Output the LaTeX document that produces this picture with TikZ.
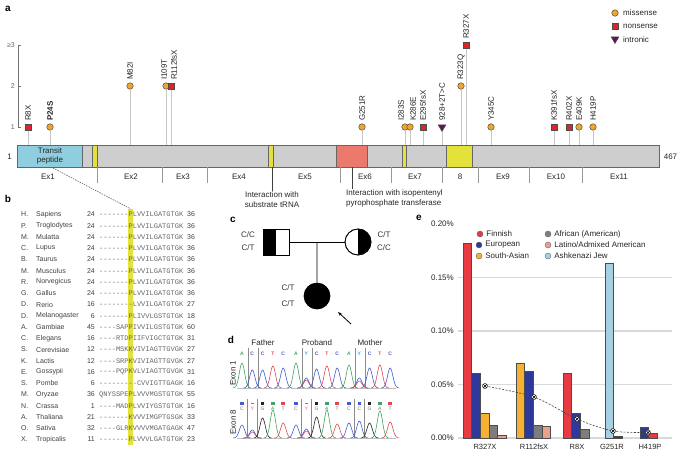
\documentclass[tikz,border=0pt]{standalone}
\usepackage{fontspec}
\setmainfont{Liberation Sans}
\setmonofont{Liberation Mono}
\usetikzlibrary{positioning, arrows.meta, calc, shapes.geometric}

\definecolor{MissenseColor}{RGB}{242,165,45}
\definecolor{NonsenseColor}{RGB}{225,35,40}
\definecolor{IntronicColor}{RGB}{95,20,90}
\definecolor{DomainGray}{RGB}{206,206,206}
\definecolor{TransitColor}{RGB}{143,206,222}
\definecolor{IPTColor}{RGB}{236,122,108}
\definecolor{MotifColor}{RGB}{226,226,58}
\definecolor{FinnishColor}{RGB}{232,58,66}
\definecolor{EuropeanColor}{RGB}{45,58,155}
\definecolor{SAsianColor}{RGB}{246,176,52}
\definecolor{AfricanColor}{RGB}{125,125,125}
\definecolor{LatinoColor}{RGB}{234,160,140}
\definecolor{AshkenaziColor}{RGB}{165,210,225}
\definecolor{TraceA}{RGB}{60,165,95}
\definecolor{TraceC}{RGB}{70,90,200}
\definecolor{TraceT}{RGB}{228,70,80}
\definecolor{TraceG}{RGB}{35,35,35}
\definecolor{TraceY}{RGB}{60,170,220}
\definecolor{TraceYpink}{RGB}{230,80,140}

\tikzset{
  panel label/.style={font=\bfseries\fontsize{10}{12}\selectfont, inner sep=0},
  lbl/.style={inner sep=0, text=black!85},
  tick label/.style={inner sep=0, text=black!60, font=\fontsize{7}{8}\selectfont},
  mut label/.style={rotate=90, anchor=west, inner sep=0, text=black!85},
  missense/.style={circle, draw=black!70, fill=MissenseColor, minimum size=6.5pt, inner sep=0, line width=0.5pt},
  nonsense/.style={rectangle, draw=black!70, fill=NonsenseColor, minimum size=6.5pt, inner sep=0, line width=0.5pt},
  intronic/.style={regular polygon, regular polygon sides=3, shape border rotate=180, draw=black!70, fill=IntronicColor, minimum size=9pt, inner sep=0, line width=0.5pt},
  stem/.style={draw=black!22, line width=1pt},
  axis/.style={draw=black!55, line width=0.6pt},
  region/.style={draw=black!60, line width=0.6pt},
  exon line/.style={draw=black!40, line width=0.6pt},
  interact/.style={draw=black!75, line width=0.6pt},
  species/.style={inner sep=0, text=black!75, font=\fontsize{7}{8}\selectfont},
  seq/.style={inner sep=0, text=black!60, font=\ttfamily\fontsize{7}{8}\selectfont, anchor=west},
  geno/.style={inner sep=0, text=black!80},
  member/.style={draw=black, line width=0.7pt, minimum size=26pt, inner sep=0},
  trace/.style={line width=0.6pt},
  snp line/.style={draw=black!45, line width=0.6pt},
  base/.style={inner sep=0, font=\bfseries\fontsize{5}{6}\selectfont},
  base8/.style={inner sep=0, font=\fontsize{5}{6}\selectfont, text=black!55},
  grid line/.style={draw=black!15, line width=1.2pt},
  bar/.style={draw=black!70, line width=0.5pt},
  pop dot/.style={circle, draw=black!60, minimum size=6pt, inner sep=0, line width=0.4pt},
  overall/.style={circle, draw=black!85, fill=white, minimum size=5pt, inner sep=0, line width=0.5pt,
    path picture={\draw[black, line width=0.7pt] (path picture bounding box.north west) -- (path picture bounding box.south east)
      (path picture bounding box.north east) -- (path picture bounding box.south west);}}
}

% one peak of a trace: x, baseline, height, colour
\newcommand{\tracepeak}[4]{%
  \draw[#4, trace] plot[domain=-9:9, samples=31, smooth] ({#1+\x}, {#2-#3*exp(-((\x)^2)/14)});}
% a chromatogram box: left, baseline, peaks pos/height/colour
\newcommand{\chromo}[3]{%
  \draw[black!25, line width=0.5pt] (#1,#2) -- ({#1+52},#2);
  \foreach \pp/\hh/\cc in {#3} {\tracepeak{#1+5+10.3*\pp}{#2}{\hh}{\cc}}}

\begin{document}
\begin{tikzpicture}[x=1pt, y=-1pt, font=\fontsize{8}{10}\selectfont]
\useasboundingbox (0,0) rectangle (685,453);

% ---------- a: variants on the protein
\node[panel label] (la) at (8,9) {a};

% Legend
\node[missense] (legmis) at (615,13) {};
\node[lbl, anchor=west] at (623,13) {missense};
\node[nonsense] (legnon) at (615,26) {};
\node[lbl, anchor=west] at (623,26) {nonsense};
\node[intronic] (legint) at (615,39) {};
\node[lbl, anchor=west] at (623,40) {intronic};

% Count axis
\draw[axis] (21,45) -- (18,45) -- (18,127) -- (21,127);
\draw[axis] (18,86) -- (21,86);
\node[tick label, anchor=east] (y3) at (15,45) {≥3};
\node[tick label, anchor=east] (y2) at (15,86) {2};
\node[tick label, anchor=east] (y1) at (15,127) {1};

% Lollipops
\foreach \mx/\lx/\lev/\kind/\txt [count=\i] in {
    28/28/1/nonsense/R8X, 50/50/1/missense/\textbf{P24S},
    130/130/2/missense/M82I, 166/164/2/missense/I109T, 171/174/2/nonsense/R112fsX,
    362/362/1/missense/G251R, 405/401/1/missense/I283S, 410/413/1/missense/K286E,
    423/423/1/nonsense/E295fsX, 442/442/1/intronic/928+2T>C,
    461/461/2/missense/R323Q, 466/466/3/nonsense/R327X, 491/491/1/missense/Y345C,
    554/554/1/nonsense/K391fsX, 569/569/1/nonsense/R402X, 579/579/1/missense/E409K,
    593/593/1/missense/H419P} {
  \coordinate (s\i) at (\mx,145);
  \node[\kind] (m\i) at (\mx,{127-41*(\lev-1)}) {};
  \draw[stem] (m\i.south) -- (s\i);
  \node[mut label] (t\i) at (\lx,{127-41*(\lev-1)-6}) {\txt};
}

% Protein
\node[region, fill=DomainGray, minimum width=642pt, minimum height=22pt, anchor=north west] (protein) at (17,145) {};
\draw[region, fill=TransitColor] (17,145) rectangle (82,167);
\draw[region, fill=MotifColor] (92,145) rectangle (97,167);
\draw[region, fill=MotifColor] (268,145) rectangle (273,167);
\draw[region, fill=IPTColor] (336,145) rectangle (367,167);
\draw[region, fill=MotifColor] (402,145) rectangle (406,167);
\draw[region, fill=MotifColor] (446,145) rectangle (472,167);
\node[lbl, align=center, font=\fontsize{8}{9.5}\selectfont] (transit) at (50,156) {Transit\\peptide};
\node[lbl, left=5pt of protein.west] (pstart) {1};
\node[lbl, right=4pt of protein.east] (pend) {467};

% Exons
\foreach \ex in {97,162,207,340,391,442,478,529,582}
  \draw[exon line] (\ex,167) -- (\ex,183);
\foreach \ex/\name [count=\j] in {48/Ex1, 131/Ex2, 183/Ex3, 239/Ex4, 305/Ex5, 365/Ex6,
    415/Ex7, 460/8, 503/Ex9, 556/Ex10, 619/Ex11}
  \node[lbl] (ex\j) at (\ex,177) {\name};

% Interactions
\coordinate (trna) at (272,167);
\node[lbl, align=center, anchor=north] (trnatxt) at (272,191) {Interaction with\\substrate tRNA};
\draw[interact] (trna) -- (trnatxt.north);
\coordinate (ipp) at (352,167);
\node[lbl, align=left, anchor=north west] (ipptxt) at (346,189) {Interaction with isopentenyl\\pyrophosphate transferase};
\draw[interact] (ipp) -- (ipp |- ipptxt.north);

% ---------- b: alignment
\node[panel label] (lb) at (8,199) {b};
\node[fill=MotifColor, minimum width=4.2pt, minimum height=236pt, inner sep=0] (hl) at (130.5,327) {};
\coordinate (zoomfrom) at (53,168);
\draw[black!70, line width=0.5pt, dash pattern=on 1.5pt off 1pt] (zoomfrom) -- (hl.north);
\foreach \g/\s/\a/\q/\b [count=\i from 0] in {
    H./Sapiens/24/-------PLVVILGATGTGK/36,
    P./Troglodytes/24/-------PLVVILGATGTGK/36,
    M./Mulatta/24/-------PLVVILGATGTGK/36,
    C./Lupus/24/-------PLVVILGATGTGK/36,
    B./Taurus/24/-------PLVVILGATGTGK/36,
    M./Musculus/24/-------PLVVILGATGTGK/36,
    R./Norvegicus/24/-------PLVVILGATGTGK/36,
    G./Gallus/24/-------PLVVILGATGTGK/36,
    D./Rerio/16/--------LVVILGATGTGK/27,
    D./Melanogaster/6/-------PLIVVLGSTGTGK/18,
    A./Gambiae/45/----SAPPIVVILGSTGTGK/60,
    C./Elegans/16/----RTDPIIFVIGCTGTGK/31,
    S./Cerevisiae/12/----MSKKVIVIAGTTGVGK/27,
    K./Lactis/12/----SRPKVIVIAGTTGVGK/27,
    E./Gossypii/16/----PQPKVLVIAGTTGVGK/31,
    S./Pombe/6/---------CVVIGTTGAGK/16,
    M./Oryzae/36/QNYSSPEPLVVVMGSTGTGK/55,
    N./Crassa/1/----MADPLVVIYGSTGTGK/16,
    A./Thaliana/21/-------KVVVIMGPTGSGK/33,
    O./Sativa/32/----GLRKVVVVMGATGAGK/47,
    X./Tropicalis/11/-------PLVVVLGATGTGK/23} {
  \node[species, anchor=west] (g\i) at (21,{214.5+11.25*\i}) {\g};
  \node[species, anchor=west] (sp\i) at (36,{214.5+11.25*\i}) {\s};
  \node[species, anchor=east] (n\i) at (95,{214.5+11.25*\i}) {\a};
  \node[seq] (q\i) at (99,{214.5+11.25*\i}) {\q};
  \node[species, anchor=west] (e\i) at (187,{214.5+11.25*\i}) {\b};
}

% ---------- c: pedigree
\node[panel label] (lc) at (233,220) {c};
\node[member] (father) at (276,242) {};
\fill[black] (father.north west) rectangle (father.south);
\node[member] at (father) {};
\node[member, circle] (mother) at (358,242) {};
\fill[black] (mother.north) arc[start angle=90, end angle=-90, radius=13pt] -- cycle;
\node[member, circle] at (mother) {};
\node[member, circle, fill=black] (proband) at (317,296) {};
\draw[line width=0.7pt] (father.east) -- (mother.west);
\coordinate (mate) at ($(father.east)!0.5!(mother.west)$);
\draw[line width=0.7pt] (mate) -- (proband.north);
\node[geno] at (248,235) {C/C};
\node[geno] at (248,248) {C/T};
\node[geno] at (384,235) {C/T};
\node[geno] at (384,248) {C/C};
\node[geno] at (288,288) {C/T};
\node[geno] at (288,304) {C/T};
\coordinate (arrowtail) at (351,324);
\coordinate (arrowtip) at (338,312);
\draw[-{Stealth[length=4pt]}, line width=0.8pt] (arrowtail) -- (arrowtip);

% ---------- d: chromatograms
\node[panel label] (ld) at (231,340) {d};
\node[lbl] (fa) at (263,343) {Father};
\node[lbl] (pr) at (317,343) {Proband};
\node[lbl] (mo) at (370,343) {Mother};
\node[lbl, rotate=90] (exon1) at (233,373) {Exon 1};
\node[lbl, rotate=90] (exon8) at (233,422) {Exon 8};

% Exon 1
\foreach \lft/\seclet/\seccol in {237/C/TraceC, 291/Y/TraceY, 344/Y/TraceY} {
  \draw[snp line] (\lft+11,348) -- (\lft+11,388);
  \draw[snp line] (\lft+21,348) -- (\lft+21,388);
  \foreach \p/\l/\c in {0/A/TraceA, 1/\seclet/\seccol, 2/C/TraceC, 3/T/TraceT, 4/C/TraceC}
    \node[base, text=\c] at ({\lft+5+10.3*\p},354) {\l};
}
\chromo{237}{388}{0/25/TraceA, 1/18/TraceC, 2/18/TraceC, 3/22/TraceT, 4/20/TraceC}
\chromo{291}{388}{0/25/TraceA, 1/10/TraceC, 1/8/TraceT, 2/19/TraceC, 3/22/TraceT, 4/20/TraceC}
\chromo{344}{388}{0/23/TraceA, 1/10/TraceC, 1/7/TraceT, 2/20/TraceC, 3/23/TraceT, 4/20/TraceC}

% Exon 8
\foreach \lft in {237,291,344} {
  \draw[snp line] (\lft+10.5,399) -- (\lft+10.5,438);
  \draw[snp line] (\lft+20.5,399) -- (\lft+20.5,438);
  \foreach \p/\l/\c in {0/C/TraceC, 2/G/TraceG, 3/A/TraceA, 4/T/TraceT} {
    \fill[\c] ({\lft+5+10.3*\p-1.8},401.5) rectangle ({\lft+5+10.3*\p+1.8},405);
    \node[base8] at ({\lft+5+10.3*\p},409) {\l};
  }
}
\foreach \lft in {237,291} {
  \fill[TraceYpink] (\lft+13.5,402.5) rectangle (\lft+17.1,403.5);
  \node[base8, text=TraceYpink] at (\lft+15.3,409) {Y};
}
\fill[TraceC] (344+13.5,401.5) rectangle (344+17.1,405);
\node[base8] at (344+15.3,409) {C};
\chromo{237}{438}{0/13/TraceC, 1/8/TraceC, 1/6/TraceT, 2/20/TraceG, 3/28/TraceA, 4/15/TraceT}
\chromo{291}{438}{0/13/TraceC, 1/9/TraceC, 1/7/TraceT, 2/21/TraceG, 3/28/TraceA, 4/14/TraceT}
\chromo{344}{438}{0/15/TraceC, 1/17/TraceC, 2/15/TraceG, 3/27/TraceA, 4/16/TraceT}

% ---------- e: allele frequencies
\node[panel label] (le) at (419,218) {e};
\foreach \v/\t in {0/0.00\%, 0.05/0.05\%, 0.10/0.10\%, 0.15/0.15\%}
  \draw[grid line] (458,{438-1070*\v}) -- (672,{438-1070*\v});
\foreach \v/\t in {0/0.00\%, 0.05/0.05\%, 0.10/0.10\%, 0.15/0.15\%, 0.20/0.20\%}
  \node[lbl, anchor=east] at (454,{438-1070*\v}) {\t};

% Bars
\foreach \bx/\val/\col in {
    463/0.182/FinnishColor, 471.6/0.0607/EuropeanColor, 480.2/0.0234/SAsianColor,
    488.8/0.0121/AfricanColor, 497.4/0.003/LatinoColor,
    516/0.0701/SAsianColor, 524.6/0.0626/EuropeanColor, 533.2/0.0121/AfricanColor,
    541.8/0.0112/LatinoColor,
    563/0.0607/FinnishColor, 571.6/0.0234/EuropeanColor, 580.2/0.0084/AfricanColor,
    605/0.1636/AshkenaziColor, 613.6/0.0012/EuropeanColor,
    640/0.0103/EuropeanColor, 648.6/0.0042/FinnishColor}
  \draw[bar, fill=\col] (\bx,438) rectangle ({\bx+8.6},{438-1070*\val});

% Overall frequency
\foreach \px/\py [count=\k] in {485/386, 534/397, 577/419, 613/431, 648/432.5}
  \coordinate (o\k) at (\px,\py);
\draw[black!75, line width=0.6pt, dash pattern=on 2pt off 1.5pt] plot[smooth] coordinates {(o1) (o2) (o3) (o4) (o5)};
\foreach \k in {1,...,5}
  \node[overall] (ov\k) at (o\k) {};

% Variant names
\foreach \vx/\vn in {485/R327X, 534/R112fsX, 577/R8X, 612/G251R, 650/H419P}
  \node[lbl, font=\fontsize{7.5}{9}\selectfont] at (\vx,447) {\vn};

% Legend
\foreach \lx/\ly/\col/\pop in {480/234/FinnishColor/Finnish, 548/234/AfricanColor/African (American),
    479/245/EuropeanColor/European, 548/245/LatinoColor/{Latino/Admixed American},
    479/256/SAsianColor/South-Asian, 548/256/AshkenaziColor/Ashkenazi Jew} {
  \node[pop dot, fill=\col] (d\lx\ly) at (\lx,\ly) {};
  \node[lbl, right=3pt of d\lx\ly] {\pop};
}
\end{tikzpicture}
\end{document}
